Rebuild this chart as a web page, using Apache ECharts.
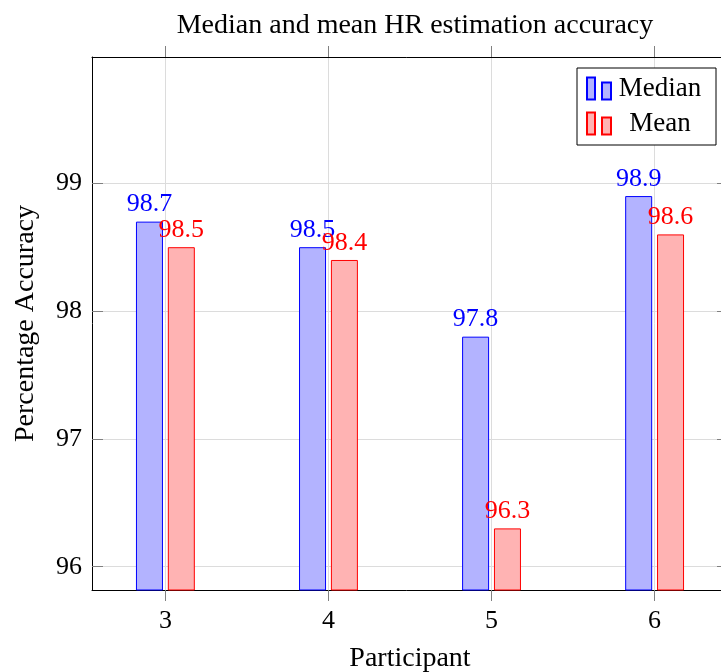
<!DOCTYPE html>
<html>
<head>
<meta charset="utf-8">
<style>
  html, body { margin: 0; padding: 0; background: #ffffff; }
  #chart { width: 721px; height: 672px; }
</style>
<script src="https://cdn.jsdelivr.net/npm/echarts@6/dist/echarts.min.js"></script>
</head>
<body>
<div id="chart"></div>
<script>
// Participants and their heart-rate estimation accuracy (%)
const participants = [3, 4, 5, 6];
const medianAccuracy = [98.7, 98.5, 97.8, 98.9];
const meanAccuracy = [98.5, 98.4, 96.3, 98.6];
const yTicks = [96, 97, 98, 99];

const FONT = 'Liberation Serif';
const FS_NUM = 26;   // tick and value labels
const FS_TEXT = 28;  // title and axis names
const FS_LEGEND = 27;
const X_MIN = 2.55, X_MAX = 6.45;
const Y_MIN = 95.818, Y_MAX = 99.988;
const GRID = { left: 92, top: 57, width: 636, height: 533, outerBoundsMode: 'none', containLabel: false };

const chart = echarts.init(document.getElementById('chart'), null, { renderer: 'canvas' });

const tickStyle = { color: '#808080', width: 1 };
const frameLine = { show: true, lineStyle: { color: '#000000', width: 1 } };
const gridLine = { show: true, lineStyle: { color: '#dcdcdc', width: 1 } };

function pairs(values) {
  return participants.map((p, i) => [p, values[i]]);
}

function barSeries(name, values, fill, stroke) {
  return {
    name: name,
    type: 'bar',
    xAxisIndex: 0,
    yAxisIndex: 0,
    data: pairs(values),
    barWidth: 27,
    barGap: '18%',
    itemStyle: { color: fill, borderColor: stroke, borderWidth: 1 },
    label: {
      show: true,
      position: 'top',
      distance: 4,
      color: stroke,
      fontFamily: FONT,
      fontSize: FS_NUM,
      formatter: p => p.value[1].toFixed(1)
    },
    emphasis: { disabled: true }
  };
}

// legend glyph: two small bars, the first one taller
const legendIcon = 'path://M0,0H8V22H0Z M15,5H24V22H15Z';

chart.setOption({
  animation: false,
  backgroundColor: '#ffffff',
  title: {
    text: 'Median and mean HR estimation accuracy',
    left: GRID.left + GRID.width / 2,
    textAlign: 'center',
    top: 7,
    textStyle: { fontFamily: FONT, fontSize: FS_TEXT, fontWeight: 'normal', color: '#000000' }
  },
  legend: {
    orient: 'vertical',
    right: 5,
    top: 68,
    padding: [7, 12, 8, 9],
    itemWidth: 24,
    itemHeight: 22,
    itemGap: 8,
    borderColor: '#000000',
    borderWidth: 1,
    backgroundColor: '#ffffff',
    icon: legendIcon,
    formatter: n => '{t|' + n + '}',
    textStyle: {
      fontFamily: FONT,
      fontSize: FS_LEGEND,
      color: '#000000',
      rich: { t: { width: 88, align: 'center', fontFamily: FONT, fontSize: FS_LEGEND, lineHeight: 24 } }
    },
    data: ['Median', 'Mean']
  },
  grid: GRID,
  xAxis: [
    {
      type: 'value',
      position: 'bottom',
      min: X_MIN,
      max: X_MAX,
      name: 'Participant',
      nameLocation: 'middle',
      nameGap: 55,
      nameTextStyle: { fontFamily: FONT, fontSize: FS_TEXT, color: '#000000' },
      axisLine: frameLine,
      axisTick: { show: true, inside: false, length: 11, customValues: participants, lineStyle: tickStyle },
      axisLabel: { customValues: participants, margin: 18, fontFamily: FONT, fontSize: FS_NUM, color: '#000000' },
      splitLine: gridLine
    },
    {
      type: 'value',
      position: 'top',
      min: X_MIN,
      max: X_MAX,
      axisLine: frameLine,
      axisTick: { show: true, inside: false, length: 11, customValues: participants, lineStyle: tickStyle },
      axisLabel: { show: false },
      splitLine: { show: false }
    }
  ],
  yAxis: [
    {
      type: 'value',
      position: 'left',
      min: Y_MIN,
      max: Y_MAX,
      name: 'Percentage Accuracy',
      nameLocation: 'middle',
      nameGap: 52,
      nameTextStyle: { fontFamily: FONT, fontSize: FS_TEXT, color: '#000000' },
      axisLine: frameLine,
      axisTick: { show: true, inside: true, length: 11, customValues: yTicks, lineStyle: tickStyle },
      axisLabel: { customValues: yTicks, margin: 10, fontFamily: FONT, fontSize: FS_NUM, color: '#000000' },
      splitLine: gridLine
    },
    {
      type: 'value',
      position: 'right',
      min: Y_MIN,
      max: Y_MAX,
      axisLine: frameLine,
      axisTick: { show: true, inside: true, length: 11, customValues: yTicks, lineStyle: tickStyle },
      axisLabel: { show: false },
      splitLine: { show: false }
    }
  ],
  series: [
    barSeries('Median', medianAccuracy, '#b3b3ff', '#0000ff'),
    barSeries('Mean', meanAccuracy, '#ffb3b3', '#ff0000')
  ]
});
</script>
</body>
</html>
